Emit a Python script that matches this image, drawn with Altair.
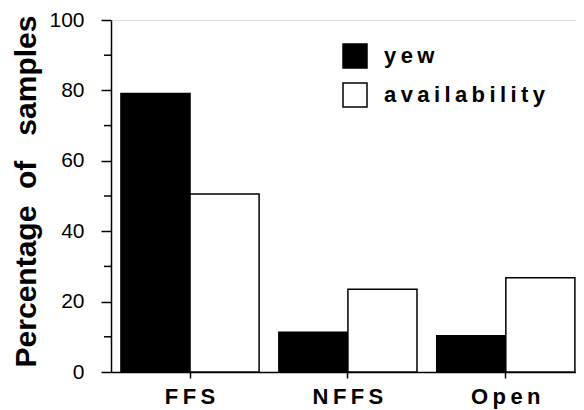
import altair as alt
import pandas as pd

categories = ["FFS", "NFFS", "Open"]
series = ["yew", "availability"]
yew = [79.1, 11.3, 10.3]
availability = [50.6, 23.5, 26.8]
y_ticks = [0, 20, 40, 60, 80, 100]
minor_ticks = [10, 30, 50, 70, 90]

rows = []
for c, a, b in zip(categories, yew, availability):
    rows.append({"site": c, "series": "yew", "pct": a})
    rows.append({"site": c, "series": "availability", "pct": b})
df = pd.DataFrame(rows)
minor = pd.DataFrame({"pct": minor_ticks})

FONT = "Liberation Sans"
SPACED = "join(split(datum.label, ''), '\u2009')"

y_axis = alt.Axis(
    values=y_ticks, title="Percentage\u00a0\u00a0of\u00a0\u00a0\u00a0samples",
    grid=False,
    labelFont=FONT, labelFontSize=21, labelColor="black",
    labelPadding=17, tickSize=10, tickColor="black", tickWidth=1.5,
    domainColor="black", domainWidth=1.5,
    titleFont=FONT, titleFontSize=30, titleFontWeight="bold",
    titleColor="black", titleX=-70, titleY=171,
)
y_scale = alt.Scale(domain=[0, 100], nice=False)

bars = alt.Chart(df).mark_bar(stroke="black", strokeWidth=1.5).encode(
    x=alt.X(
        "site:N",
        sort=categories,
        scale=alt.Scale(paddingInner=0.125, paddingOuter=0.035, align=0.9),
        axis=alt.Axis(
            title=None, labelAngle=0, labelFont=FONT, labelFontSize=22,
            labelFontWeight="bold", labelColor="black", tickSize=6,
            tickColor="black", tickWidth=1.5, domainColor="black",
            domainWidth=1.5, labelPadding=8, grid=False, labelExpr=SPACED,
        ),
    ),
    xOffset=alt.XOffset("series:N", sort=series,
                        scale=alt.Scale(paddingInner=0, paddingOuter=0)),
    y=alt.Y("pct:Q", scale=y_scale, axis=y_axis),
    fill=alt.Fill(
        "series:N", sort=series,
        scale=alt.Scale(domain=series, range=["black", "white"]),
        legend=alt.Legend(
            title=None, orient="none", legendX=231, legendY=23, padding=0,
            symbolType="square", symbolSize=576, symbolStrokeColor="black",
            symbolStrokeWidth=1.5, labelFont=FONT, labelFontSize=22,
            labelFontWeight="bold", labelColor="black", labelOffset=16,
            rowPadding=9, labelLimit=0, labelExpr=SPACED,
        ),
    ),
)

minor_ticks_layer = alt.Chart(minor).mark_rule(color="black", strokeWidth=1.5).encode(
    y=alt.Y("pct:Q", scale=y_scale, axis=y_axis),
    x=alt.value(-7),
    x2=alt.value(0),
)

chart = alt.layer(bars, minor_ticks_layer).properties(
    width=465,
    height=352,
    autosize=alt.AutoSizeParams(type="none"),
    padding={"left": 103, "top": 12, "right": 0, "bottom": 38},
).configure_view(stroke=None).configure(background="white")

chart.save("out.html", embed_options={"renderer": "svg", "actions": False})
